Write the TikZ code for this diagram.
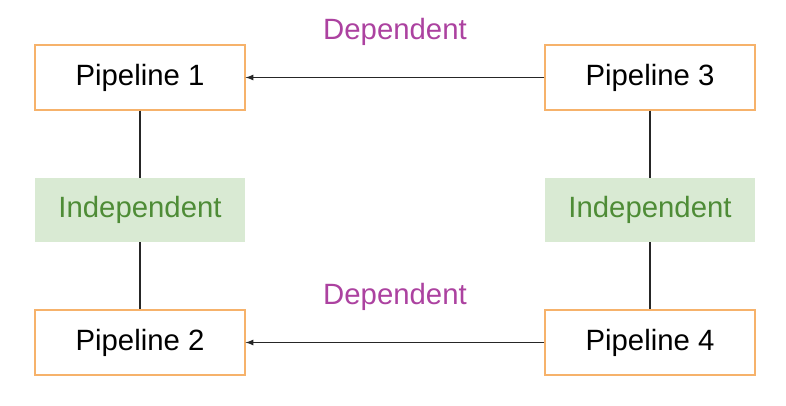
\documentclass[tikz,border=0pt]{standalone}
\usepackage{fontspec}
\setmainfont{Liberation Sans}
\usetikzlibrary{arrows}
\definecolor{pipeorange}{HTML}{F6B26B}
\definecolor{indepfill}{HTML}{D9EAD3}
\definecolor{indeptext}{HTML}{4E8C36}
\definecolor{deptext}{HTML}{AC42A0}
\begin{document}
\begin{tikzpicture}[x=0.75pt,y=-0.75pt,
	pipe/.style={draw=pipeorange, line width=0.9pt, minimum width=157.5pt, minimum height=48.75pt, inner sep=0pt, font=\fontsize{22}{26}\selectfont},
	indep/.style={fill=indepfill, text=indeptext, minimum width=157.5pt, minimum height=48pt, inner sep=0pt, font=\fontsize{22}{26}\selectfont},
	dep/.style={text=deptext, inner sep=0pt, font=\fontsize{22}{26}\selectfont},
	link/.style={draw=black!85, line width=1pt}]
			\useasboundingbox (0,0) rectangle (786,406);
			\node[pipe] (P1) at (140,77.5) {Pipeline 1};
			\node[pipe] (P3) at (650,77.5) {Pipeline 3};
			\node[pipe] (P2) at (140,342.5) {Pipeline 2};
			\node[pipe] (P4) at (650,342.5) {Pipeline 4};
			
			\node[indep] (I12) at (140,210) {Independent};
			\node[indep] (I34) at (650,210) {Independent};
			
			\node[dep] (D13) at (395,32) {Dependent};
			\node[dep] (D24) at (395,297) {Dependent};
			
			\draw[link] (P1) -- (I12) -- (P2);
			\draw[link] (P3) -- (I34) -- (P4);
			\draw[link,-latex] (P3) -- (P1);
			\draw[link,-latex] (P4) -- (P2);
			\end{tikzpicture}
\end{document}
